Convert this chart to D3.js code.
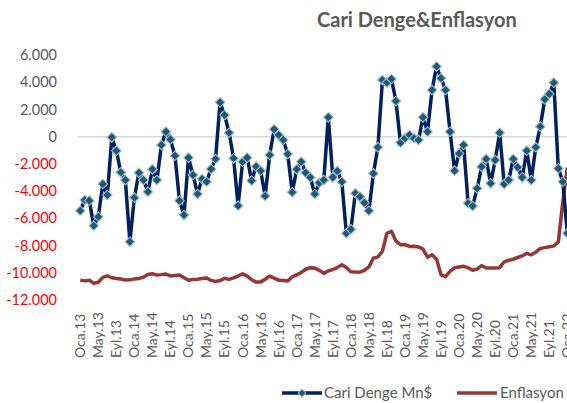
<!DOCTYPE html>
<html><head><meta charset="utf-8">
<script src="https://cdn.jsdelivr.net/npm/d3@7"></script>
<style>
html,body{margin:0;padding:0;background:#fff;}
svg{display:block;font-family:Lato,"Noto Sans",sans-serif;}
</style></head>
<body>
<svg id="chart" width="567" height="403"></svg>
<script>
const categories = [
"Oca.13","Şub.13","Mar.13","Nis.13","May.13","Haz.13","Tem.13","Ağu.13","Eyl.13","Eki.13","Kas.13","Ara.13",
"Oca.14","Şub.14","Mar.14","Nis.14","May.14","Haz.14","Tem.14","Ağu.14","Eyl.14","Eki.14","Kas.14","Ara.14",
"Oca.15","Şub.15","Mar.15","Nis.15","May.15","Haz.15","Tem.15","Ağu.15","Eyl.15","Eki.15","Kas.15","Ara.15",
"Oca.16","Şub.16","Mar.16","Nis.16","May.16","Haz.16","Tem.16","Ağu.16","Eyl.16","Eki.16","Kas.16","Ara.16",
"Oca.17","Şub.17","Mar.17","Nis.17","May.17","Haz.17","Tem.17","Ağu.17","Eyl.17","Eki.17","Kas.17","Ara.17",
"Oca.18","Şub.18","Mar.18","Nis.18","May.18","Haz.18","Tem.18","Ağu.18","Eyl.18","Eki.18","Kas.18","Ara.18",
"Oca.19","Şub.19","Mar.19","Nis.19","May.19","Haz.19","Tem.19","Ağu.19","Eyl.19","Eki.19","Kas.19","Ara.19",
"Oca.20","Şub.20","Mar.20","Nis.20","May.20","Haz.20","Tem.20","Ağu.20","Eyl.20","Eki.20","Kas.20","Ara.20",
"Oca.21","Şub.21","Mar.21","Nis.21","May.21","Haz.21","Tem.21","Ağu.21","Eyl.21","Eki.21","Kas.21","Ara.21",
"Oca.22"];

// Cari Denge (Mn $)
const cariDenge = [
-5440,-4650,-4700,-6540,-5880,-3480,-4290,-50,-1030,-2620,-3190,-7720,
-4480,-2650,-3190,-4040,-2400,-3190,-610,370,-200,-1400,-4700,-5760,
-1540,-2820,-4210,-3110,-3310,-2380,-1640,2520,1590,290,-1590,-5070,
-1840,-1540,-3230,-2200,-2500,-4360,-1350,540,120,-240,-1270,-4090,
-2400,-1840,-2650,-2990,-4210,-3380,-3190,1420,-2990,-2520,-3310,-7100,
-6810,-4160,-4410,-4850,-5440,-2700,-780,4160,3970,4240,2620,-450,
-120,120,-120,-240,1420,370,3430,5150,4290,3430,370,-2500,
-1230,-610,-4900,-5100,-3800,-2210,-1640,-3430,-1720,290,-3480,-3190,
-1640,-2250,-2990,-1030,-3190,-780,740,2740,3140,3970,-2330,-3310,
-7100];

// Enflasyon (%), secondary axis
const enflasyon = [
7.31,7.03,7.29,6.13,6.51,8.30,8.88,8.17,7.88,7.71,7.32,7.40,
7.75,7.89,8.39,9.38,9.66,9.16,9.32,9.54,8.86,8.96,9.15,8.17,
7.24,7.55,7.61,7.91,8.09,7.20,6.81,7.14,7.95,7.58,8.10,8.81,
9.58,8.78,7.46,6.57,6.58,7.64,8.79,8.05,7.28,7.16,7.00,8.53,
9.22,10.13,11.29,11.87,11.72,10.90,9.79,10.68,11.20,11.90,12.98,11.92,
10.35,10.26,10.23,10.85,12.15,15.39,15.85,17.90,24.52,25.24,21.62,20.30,
20.35,19.67,19.71,19.50,18.71,15.72,16.65,15.01,9.26,8.55,10.56,11.84,
12.15,12.37,11.86,10.94,11.39,12.62,11.76,11.77,11.75,11.89,14.03,14.60,
14.97,15.61,16.19,17.14,16.59,17.53,18.95,19.25,19.58,19.89,21.31,36.08,
48.69];

const yTicks = [-12000,-10000,-8000,-6000,-4000,-2000,0,2000,4000,6000];
const xTickLabels = categories.filter((d,i)=>i%4===0);
const seriesNames = ["Cari Denge Mn$","Enflasyon"];
const title = "Cari Denge&Enflasyon";

const svg = d3.select("#chart");
const plotLeft = 78, step = 4.51;
const x = d3.scaleBand().domain(categories).range([plotLeft, plotLeft + step*categories.length]);
const cx = d => x(d) + x.bandwidth()/2;
const y = d3.scaleLinear().domain([-12000, 6000]).range([300, 55]);
const y2 = d3.scaleLinear().domain([0, 90]).range([300, 55]);

const loc = d3.formatLocale({decimal:",", thousands:".", grouping:[3], currency:["",""], minus:"-"});
const fmt = loc.format(",");

// zero line
svg.append("line")
  .attr("x1", plotLeft).attr("x2", 567)
  .attr("y1", y(0)).attr("y2", y(0))
  .attr("stroke", "#d9d9d9").attr("stroke-width", 1.5);

// y axis labels
const ya = svg.append("g").attr("transform", "translate(57,0)")
  .call(d3.axisLeft(y).tickValues(yTicks).tickSize(0).tickPadding(0).tickFormat(fmt));
ya.select(".domain").remove();
ya.selectAll("text")
  .attr("font-family", "Lato, sans-serif").attr("font-size", 14.5)
  .attr("fill", d => d < 0 ? "#ff0000" : "#595959");

// x axis labels
const xa = svg.append("g").attr("transform", "translate(0,358)")
  .call(d3.axisBottom(x).tickValues(xTickLabels).tickSize(0).tickPadding(0));
xa.select(".domain").remove();
xa.selectAll("text")
  .attr("font-family", "Lato, sans-serif").attr("font-size", 14)
  .attr("fill", "#595959")
  .attr("transform", "rotate(-90)")
  .attr("text-anchor", "start")
  .attr("x", 0).attr("y", 0).attr("dy", "0.35em");

// inflation line
svg.append("path")
  .datum(enflasyon)
  .attr("fill", "none").attr("stroke", "#953735").attr("stroke-width", 3.5)
  .attr("stroke-linejoin", "round")
  .attr("d", d3.line().x((d,i)=>cx(categories[i])).y(d=>y2(d)));

// current account line
svg.append("path")
  .datum(cariDenge)
  .attr("fill", "none").attr("stroke", "#002060").attr("stroke-width", 3.5)
  .attr("stroke-linejoin", "round")
  .attr("d", d3.line().x((d,i)=>cx(categories[i])).y(d=>y(d)));

const diamond = d3.symbol().type(d3.symbolSquare).size(46);
svg.append("g").selectAll("path")
  .data(cariDenge)
  .join("path")
  .attr("d", diamond)
  .attr("transform", (d,i)=>`translate(${cx(categories[i])},${y(d)}) rotate(45)`)
  .attr("fill", "#215968").attr("stroke", "#9dbbe0").attr("stroke-width", 1.1);

// title
svg.append("text")
  .attr("x", 317).attr("y", 27)
  .attr("font-family", "Lato, sans-serif").attr("font-weight", "bold").attr("font-size", 20)
  .attr("fill", "#595959")
  .text(title);

// legend
const lg = svg.append("g");
lg.append("line").attr("x1",282).attr("x2",322).attr("y1",393).attr("y2",393)
  .attr("stroke","#002060").attr("stroke-width",3.5);
lg.append("path").attr("d", d3.symbol().type(d3.symbolSquare).size(30))
  .attr("transform","translate(302,393) rotate(45)")
  .attr("fill","#215968").attr("stroke","#9dbbe0").attr("stroke-width",1);
lg.append("text").attr("x",324).attr("y",393).attr("dy","0.35em")
  .attr("font-size",15).attr("fill","#595959").text(seriesNames[0]);
lg.append("line").attr("x1",457).attr("x2",497).attr("y1",393).attr("y2",393)
  .attr("stroke","#953735").attr("stroke-width",3.5);
lg.append("text").attr("x",500).attr("y",393).attr("dy","0.35em")
  .attr("font-size",15).attr("fill","#595959").text(seriesNames[1]);
</script>
</body></html>
